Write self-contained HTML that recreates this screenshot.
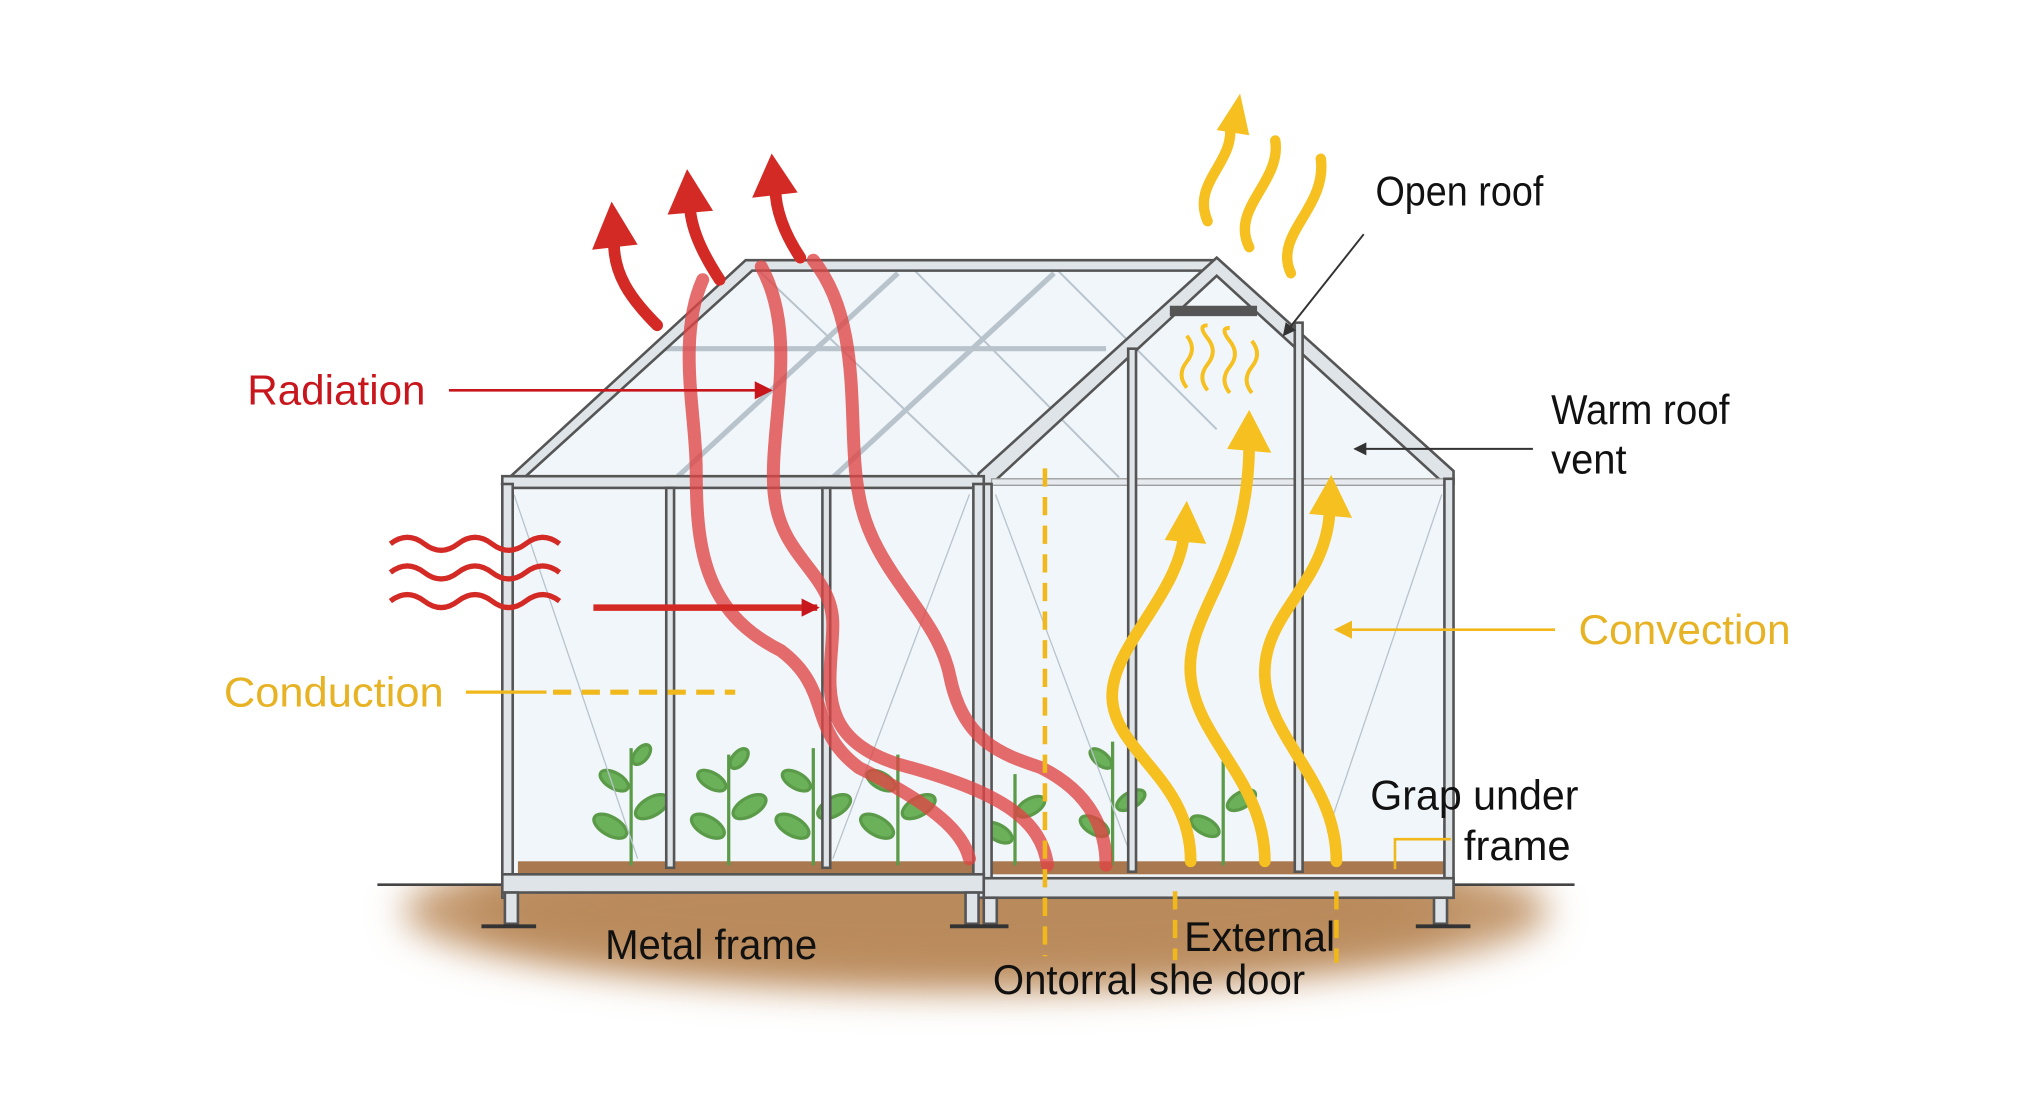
<!DOCTYPE html>
<html><head><meta charset="utf-8"><style>
html,body{margin:0;padding:0;background:#fff;}
svg{display:block;}
text{font-family:"Liberation Sans Narrow","Liberation Sans",sans-serif;}
</style></head><body>
<svg width="2030" height="1102" viewBox="0 0 1560 847" preserveAspectRatio="none" xmlns="http://www.w3.org/2000/svg">
<defs>
<filter id="blur" x="-20%" y="-50%" width="140%" height="200%"><feGaussianBlur stdDeviation="14"/></filter>
<clipPath id="below"><rect x="0" y="681" width="1560" height="200"/></clipPath>
<marker id="ah" markerWidth="10" markerHeight="10" refX="8" refY="5" orient="auto" markerUnits="userSpaceOnUse"><path d="M0,0 L10,5 L0,10 z" fill="#333"/></marker>
<marker id="ar" markerWidth="14" markerHeight="14" refX="12" refY="7" orient="auto" markerUnits="userSpaceOnUse"><path d="M0,0 L14,7 L0,14 z" fill="#c8161d"/></marker>
<marker id="ay" markerWidth="14" markerHeight="14" refX="12" refY="7" orient="auto" markerUnits="userSpaceOnUse"><path d="M0,0 L14,7 L0,14 z" fill="#f0b81a"/></marker>
</defs>
<rect width="1560" height="847" fill="#fff"/>
<!-- soil -->
<g clip-path="url(#below)">
<ellipse cx="750" cy="700" rx="440" ry="62" fill="#c49a70" filter="url(#blur)"/>
<ellipse cx="740" cy="700" rx="380" ry="45" fill="#b98a5c" filter="url(#blur)"/>
</g>
<line x1="290" y1="680" x2="1210" y2="680" stroke="#444" stroke-width="2"/>
<path d="M388,370 L575,203 L935,203 L1115,368 L1115,680 L388,680 Z" fill="#eef4f9" opacity="0.8"/>
<rect x="398" y="662" width="350" height="10" fill="#a9784e"/>
<rect x="762" y="662" width="350" height="10" fill="#a9784e"/>
<g fill="#6bb15a" stroke="#5a9a48" stroke-width="2.5">
<g transform="translate(485,665)"><line x1="0" y1="0" x2="0" y2="-90" fill="none"/><ellipse cx="-16" cy="-30" rx="14" ry="7" transform="rotate(30,-16,-30)"/><ellipse cx="16" cy="-45" rx="14" ry="7" transform="rotate(-30,16,-45)"/><ellipse cx="-13" cy="-65" rx="12" ry="6" transform="rotate(30,-13,-65)"/><ellipse cx="8" cy="-85" rx="9" ry="5" transform="rotate(-50,8,-85)"/></g>
<g transform="translate(560,665)"><line x1="0" y1="0" x2="0" y2="-85" fill="none"/><ellipse cx="-16" cy="-30" rx="14" ry="7" transform="rotate(30,-16,-30)"/><ellipse cx="16" cy="-45" rx="14" ry="7" transform="rotate(-30,16,-45)"/><ellipse cx="-13" cy="-65" rx="12" ry="6" transform="rotate(30,-13,-65)"/><ellipse cx="8" cy="-82" rx="9" ry="5" transform="rotate(-50,8,-82)"/></g>
<g transform="translate(625,665)"><line x1="0" y1="0" x2="0" y2="-90" fill="none"/><ellipse cx="-16" cy="-30" rx="14" ry="7" transform="rotate(30,-16,-30)"/><ellipse cx="16" cy="-45" rx="14" ry="7" transform="rotate(-30,16,-45)"/><ellipse cx="-13" cy="-65" rx="12" ry="6" transform="rotate(30,-13,-65)"/></g>
<g transform="translate(690,665)"><line x1="0" y1="0" x2="0" y2="-85" fill="none"/><ellipse cx="-16" cy="-30" rx="14" ry="7" transform="rotate(30,-16,-30)"/><ellipse cx="16" cy="-45" rx="14" ry="7" transform="rotate(-30,16,-45)"/><ellipse cx="-13" cy="-65" rx="12" ry="6" transform="rotate(30,-13,-65)"/></g>
<g transform="translate(780,665)"><line x1="0" y1="0" x2="0" y2="-70" fill="none"/><ellipse cx="-13" cy="-25" rx="12" ry="6" transform="rotate(30,-13,-25)"/><ellipse cx="12" cy="-45" rx="12" ry="6" transform="rotate(-30,12,-45)"/></g>
<g transform="translate(855,665)"><line x1="0" y1="0" x2="0" y2="-95" fill="none"/><ellipse cx="-14" cy="-30" rx="12" ry="6" transform="rotate(30,-14,-30)"/><ellipse cx="14" cy="-50" rx="12" ry="6" transform="rotate(-30,14,-50)"/><ellipse cx="-9" cy="-82" rx="10" ry="5" transform="rotate(40,-9,-82)"/></g>
<g transform="translate(940,665)"><line x1="0" y1="0" x2="0" y2="-80" fill="none"/><ellipse cx="-14" cy="-30" rx="12" ry="6" transform="rotate(30,-14,-30)"/><ellipse cx="14" cy="-50" rx="12" ry="6" transform="rotate(-30,14,-50)"/></g>
</g>
<g stroke="#b8c3cc" stroke-width="4" fill="none">
<line x1="505" y1="268" x2="850" y2="268"/>
<line x1="520" y1="367" x2="690" y2="210"/>
<line x1="640" y1="367" x2="810" y2="210"/>
<line x1="580" y1="205" x2="750" y2="367" stroke-width="1.5"/>
<line x1="700" y1="205" x2="860" y2="367" stroke-width="1.5"/>
<line x1="810" y1="205" x2="935" y2="330" stroke-width="1.5"/>
<line x1="395" y1="380" x2="490" y2="660" stroke-width="1"/>
<line x1="745" y1="380" x2="640" y2="660" stroke-width="1"/>
<line x1="765" y1="380" x2="870" y2="660" stroke-width="1"/>
<line x1="1108" y1="380" x2="1020" y2="640" stroke-width="1"/>
</g>
<g stroke="#555" stroke-width="2" fill="#dfe4e8">
<path d="M386,372 L573,200 L935,200 L940,208 L578,208 L392,377 Z"/>
<path d="M935,198 L1117,362 L1117,372 L1110,372 L935,212 L762,372 L752,372 L752,364 Z"/>
<rect x="386" y="366" width="370" height="9"/>
<rect x="762" y="368" width="348" height="5" fill="#e6eaee" stroke="#999" stroke-width="1"/>
<rect x="386" y="372" width="8" height="318"/>
<rect x="512" y="375" width="6" height="292"/>
<rect x="632" y="375" width="6" height="292"/>
<rect x="748" y="372" width="8" height="318"/>
<rect x="756" y="372" width="6" height="318"/>
<rect x="867" y="268" width="6" height="402"/>
<rect x="995" y="248" width="6" height="422"/>
<rect x="1110" y="368" width="7" height="322"/>
<rect x="900" y="236" width="65" height="6" fill="#555"/>
<rect x="386" y="672" width="370" height="14"/>
<rect x="756" y="675" width="361" height="15"/>
<rect x="388" y="686" width="10" height="24"/>
<rect x="742" y="686" width="10" height="24"/>
<rect x="756" y="690" width="10" height="20"/>
<rect x="1102" y="690" width="10" height="20"/>
</g>
<g stroke="#333" stroke-width="3"><line x1="370" y1="712" x2="412" y2="712"/><line x1="730" y1="712" x2="775" y2="712"/><line x1="1088" y1="712" x2="1130" y2="712"/></g>
<g fill="none" stroke="#e04545" stroke-width="10" opacity="0.78" stroke-linecap="round">
<path d="M540,215 C520,260 535,320 535,360 C535,420 540,470 600,500 C640,530 620,560 660,590 C720,620 740,640 745,660"/>
<path d="M585,205 C615,260 590,330 595,380 C600,430 640,440 640,480 C640,520 620,570 700,590 C770,610 800,630 805,665"/>
<path d="M625,200 C665,250 650,330 660,380 C670,440 720,470 730,520 C740,570 770,580 800,590 C840,610 850,640 850,665"/>
</g>
<g fill="none" stroke="#d42a25" stroke-width="9" stroke-linecap="round">
<path d="M505,250 C485,230 470,210 472,182"/>
<path d="M553,215 C540,195 530,175 530,155"/>
<path d="M615,198 C603,180 595,160 596,142"/>
</g>
<g fill="#d42a25">
<path d="M455,192 L470,155 L490,188 Z"/>
<path d="M513,165 L528,130 L548,162 Z"/>
<path d="M578,152 L593,118 L613,148 Z"/>
</g>
<g fill="none" stroke="#d42a25" stroke-width="4">
<path d="M300,418 q13,-10 26,0 t26,0 t26,0 t26,0 t26,0"/>
<path d="M300,440 q13,-10 26,0 t26,0 t26,0 t26,0 t26,0"/>
<path d="M300,462 q13,-10 26,0 t26,0 t26,0 t26,0 t26,0"/>
</g>
<line x1="456" y1="467" x2="628" y2="467" stroke="#d42a25" stroke-width="5" marker-end="url(#ar)"/>
<line x1="345" y1="300" x2="592" y2="300" stroke="#c8161d" stroke-width="2" marker-end="url(#ar)"/>
<line x1="358" y1="532" x2="420" y2="532" stroke="#f0b81a" stroke-width="2.5"/>
<line x1="425" y1="532" x2="565" y2="532" stroke="#f0b81a" stroke-width="4" stroke-dasharray="14,8"/>
<g stroke="#f0b81a" stroke-width="3.5" stroke-dasharray="14,8">
<line x1="803" y1="360" x2="803" y2="735"/>
<line x1="903" y1="685" x2="903" y2="738"/>
<line x1="1027" y1="685" x2="1027" y2="740"/>
</g>
<g fill="none" stroke="#f5c020" stroke-width="9" stroke-linecap="round">
<path d="M915,662 C915,600 860,580 855,540 C850,500 905,460 910,410"/>
<path d="M972,662 C972,600 920,570 915,520 C910,470 960,440 960,340"/>
<path d="M1027,662 C1027,600 975,570 972,520 C970,470 1020,450 1022,390"/>
</g>
<g fill="#f5c020">
<path d="M895,415 L912,385 L927,418 Z"/>
<path d="M943,345 L960,315 L977,348 Z"/>
<path d="M1006,395 L1023,365 L1039,398 Z"/>
</g>
<g fill="none" stroke="#f5c020" stroke-width="3">
<path d="M912,298 q-8,-10 0,-20 t0,-20"/><path d="M928,300 q-8,-10 0,-20 t0,-20 t0,-10"/><path d="M945,302 q-8,-10 0,-20 t0,-20 t0,-10"/><path d="M962,302 q-8,-10 0,-20 t0,-20"/>
</g>
<g fill="none" stroke="#f5c020" stroke-width="8" stroke-linecap="round">
<path d="M928,170 C915,140 950,125 945,95"/>
<path d="M960,190 C945,160 985,140 980,108"/>
<path d="M992,210 C978,180 1020,160 1015,122"/>
</g>
<g fill="#f5c020"><path d="M935,100 L953,72 L960,104 Z"/></g>
<line x1="1048" y1="180" x2="987" y2="257" stroke="#333" stroke-width="1.5" marker-end="url(#ah)"/>
<line x1="1178" y1="345" x2="1042" y2="345" stroke="#333" stroke-width="1.5" marker-end="url(#ah)"/>
<line x1="1195" y1="484" x2="1027" y2="484" stroke="#f0b81a" stroke-width="2" marker-end="url(#ay)"/>
<path d="M1072,668 L1072,645 L1115,645" fill="none" stroke="#f0b81a" stroke-width="2"/>
<g font-size="32">
<text x="190" y="311" fill="#c8161d" textLength="137" lengthAdjust="spacingAndGlyphs">Radiation</text>
<text x="172" y="543" fill="#e7b324" textLength="169" lengthAdjust="spacingAndGlyphs">Conduction</text>
<text x="1213" y="495" fill="#e7b324" textLength="163" lengthAdjust="spacingAndGlyphs">Convection</text>
<text x="1057" y="158" fill="#111" textLength="129" lengthAdjust="spacingAndGlyphs">Open roof</text>
<text x="1192" y="326" fill="#111" textLength="137" lengthAdjust="spacingAndGlyphs">Warm roof</text>
<text x="1192" y="364" fill="#111" textLength="58" lengthAdjust="spacingAndGlyphs">vent</text>
<text x="1053" y="622" fill="#111" textLength="160" lengthAdjust="spacingAndGlyphs">Grap under</text>
<text x="1125" y="661" fill="#111" textLength="82" lengthAdjust="spacingAndGlyphs">frame</text>
<text x="465" y="737" fill="#111" textLength="163" lengthAdjust="spacingAndGlyphs">Metal frame</text>
<text x="910" y="731" fill="#111" textLength="116" lengthAdjust="spacingAndGlyphs">External</text>
<text x="763" y="764" fill="#111" textLength="240" lengthAdjust="spacingAndGlyphs">Ontorral she door</text>
</g>
</svg>
</body></html>
